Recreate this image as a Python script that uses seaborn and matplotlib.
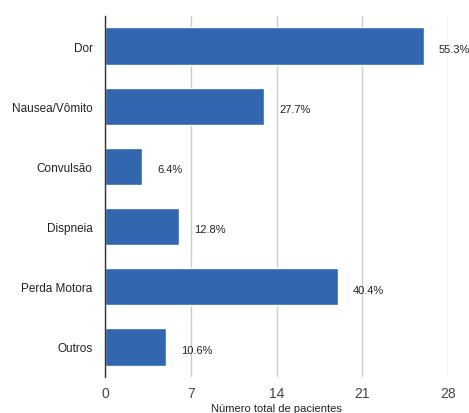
import matplotlib
matplotlib.use("Agg")
import matplotlib.pyplot as plt
import seaborn as sns
import pandas as pd

categorias = ["Dor", "Nausea/Vômito", "Convulsão", "Dispneia", "Perda Motora", "Outros"]
pacientes = [26, 13, 3, 6, 19, 5]
percentuais = ["55.3%", "27.7%", "6.4%", "12.8%", "40.4%", "10.6%"]
ticks_x = [0, 7, 14, 21, 28]

df = pd.DataFrame({"categoria": categorias, "pacientes": pacientes})

sns.set_theme(style="white")
plt.rcParams["font.family"] = ["Liberation Sans", "DejaVu Sans"]

fig = plt.figure(figsize=(4.69, 4.14), dpi=100)
ax = fig.add_axes([105 / 469, 1 - 378 / 414, (448.3 - 105) / 469, (378 - 17) / 414])

sns.barplot(data=df, x="pacientes", y="categoria", orient="h", color="#3267B0",
            saturation=1, width=0.62, ax=ax, zorder=3)

for bar, txt in zip(ax.patches, percentuais):
    ax.annotate(txt, (bar.get_width(), bar.get_y() + bar.get_height() / 2),
                xytext=(11, -2), textcoords="offset points", ha="left", va="center",
                fontsize=8, color="#222222")

ax.set_xlim(0, 28)
ax.set_ylim(5.5, -0.5)
ax.set_xticks(ticks_x)
ax.set_xticklabels([str(t) for t in ticks_x])
ax.xaxis.grid(True, color="#CCCCCC", linewidth=1, zorder=0)
ax.yaxis.grid(False)
for s in ["top", "right", "bottom"]:
    ax.spines[s].set_visible(False)
ax.spines["left"].set_color("#333333")
ax.spines["left"].set_linewidth(1)
ax.spines["left"].set_zorder(4)
ax.tick_params(axis="x", length=0, pad=6.5, labelsize=10, labelcolor="#444444")
ax.tick_params(axis="y", length=0, pad=9, labelsize=8.5, labelcolor="#222222")
ax.set_ylabel("")
ax.set_xlabel("Número total de pacientes", fontsize=8, color="#222222", labelpad=2.5)

fig.savefig("out.png", dpi=100)
